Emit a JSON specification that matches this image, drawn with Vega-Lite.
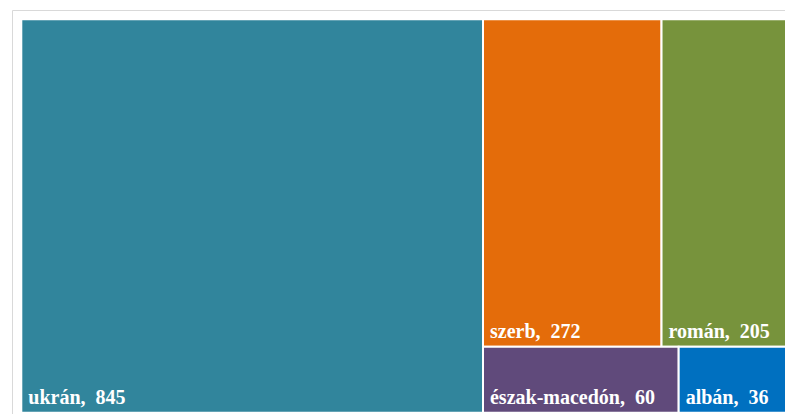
{
  "$schema": "https://vega.github.io/schema/vega-lite/v6.json",
  "autosize": {"type": "none"},
  "padding": {"left": 12, "top": 10, "right": 0, "bottom": 0},
  "width": 773,
  "height": 404,
  "background": "white",
  "config": {"view": {"stroke": "#d9d9d9", "strokeWidth": 1}},
  "data": {
    "values": [
      {"name": "ukrán", "value": 845, "col": 1, "row": 1, "order": 1},
      {"name": "szerb", "value": 272, "col": 2, "row": 1, "order": 2},
      {"name": "román", "value": 205, "col": 2, "row": 1, "order": 3},
      {"name": "észak-macedón", "value": 60, "col": 2, "row": 2, "order": 4},
      {"name": "albán", "value": 36, "col": 2, "row": 2, "order": 5}
    ]
  },
  "transform": [
    {"joinaggregate": [{"op": "sum", "field": "value", "as": "total"}]},
    {"joinaggregate": [{"op": "sum", "field": "value", "as": "colSum"}], "groupby": ["col"]},
    {"joinaggregate": [{"op": "sum", "field": "value", "as": "rowSum"}], "groupby": ["col", "row"]},
    {"window": [{"op": "sum", "field": "value", "as": "cumAll"}], "sort": [{"field": "order", "order": "ascending"}], "frame": [null, 0]},
    {"calculate": "datum.cumAll - datum.value", "as": "beforeAll"},
    {"joinaggregate": [{"op": "min", "field": "beforeAll", "as": "colStart"}], "groupby": ["col"]},
    {"window": [{"op": "sum", "field": "value", "as": "cumCol"}], "groupby": ["col"], "sort": [{"field": "order", "order": "ascending"}], "frame": [null, 0]},
    {"calculate": "datum.cumCol - datum.value", "as": "beforeCol"},
    {"joinaggregate": [{"op": "min", "field": "beforeCol", "as": "rowStart"}], "groupby": ["col", "row"]},
    {"window": [{"op": "sum", "field": "value", "as": "cumRow"}], "groupby": ["col", "row"], "sort": [{"field": "order", "order": "ascending"}], "frame": [null, 0]},
    {"calculate": "datum.cumRow - datum.value", "as": "beforeRow"},
    {"calculate": "datum.colStart / datum.total + (datum.colSum / datum.total) * (datum.beforeRow / datum.rowSum)", "as": "x0"},
    {"calculate": "datum.x0 + (datum.colSum / datum.total) * (datum.value / datum.rowSum)", "as": "x1"},
    {"calculate": "datum.rowStart / datum.colSum", "as": "y0"},
    {"calculate": "(datum.rowStart + datum.rowSum) / datum.colSum", "as": "y1"},
    {"calculate": "datum.name + ',\u00a0\u00a0' + datum.value", "as": "label"}
  ],
  "layer": [
    {
      "mark": {"type": "rect", "stroke": "white", "strokeWidth": 2, "clip": true},
      "encoding": {
        "x": {"field": "x0", "type": "quantitative", "scale": {"domain": [-0.012, 0.9857], "nice": false, "zero": false}, "axis": null},
        "x2": {"field": "x1"},
        "y": {"field": "y0", "type": "quantitative", "scale": {"domain": [-0.02364, 1.0033], "nice": false, "zero": false, "reverse": true}, "axis": null},
        "y2": {"field": "y1"},
        "color": {
          "field": "name",
          "type": "nominal",
          "scale": {
            "domain": ["ukrán", "szerb", "román", "észak-macedón", "albán"],
            "range": ["#31859C", "#E46C0A", "#77933C", "#604A7B", "#0070C0"]
          },
          "legend": null
        }
      }
    },
    {
      "mark": {"type": "text", "align": "left", "baseline": "alphabetic", "dx": 7, "dy": -9, "font": "Liberation Serif", "fontWeight": "bold", "fontSize": 20, "fill": "white", "clip": true},
      "encoding": {
        "x": {"field": "x0", "type": "quantitative"},
        "y": {"field": "y1", "type": "quantitative"},
        "text": {"field": "label", "type": "nominal"}
      }
    }
  ]
}
